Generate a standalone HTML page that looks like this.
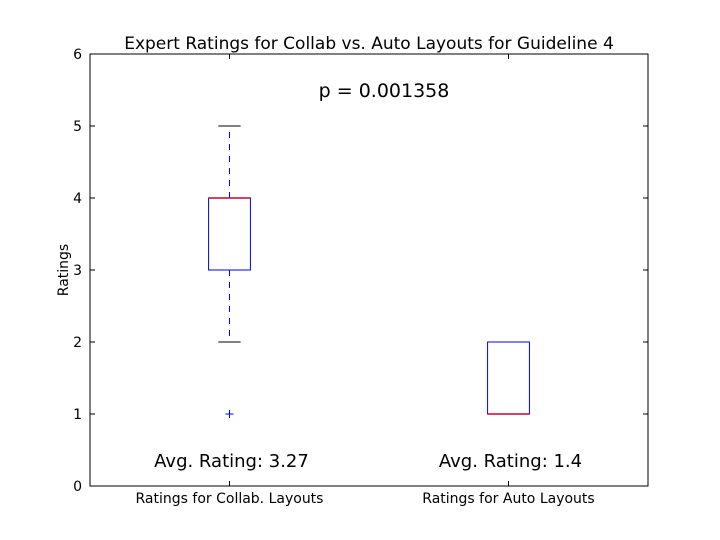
<!DOCTYPE html>
<html><head><meta charset="utf-8"><style>
body{margin:0;background:#fff;}
svg{display:block;font-family:"DejaVu Sans","Liberation Sans",sans-serif;}
</style></head><body>
<svg id="chart" width="720" height="540" viewBox="0 0 720 540" xmlns="http://www.w3.org/2000/svg">
<rect x="0" y="0" width="720" height="540" fill="#fff"/>
<text x="369" y="49" font-size="17" text-anchor="middle">Expert Ratings for Collab vs. Auto Layouts for Guideline 4</text>
<text transform="translate(68,270) rotate(-90)" font-size="14" text-anchor="middle">Ratings</text>
<text x="384" y="97" font-size="19" text-anchor="middle">p = 0.001358</text>
<g id="marks"></g>
<rect x="90" y="54" width="558" height="432" fill="none" stroke="#000" stroke-width="1"/>
</svg>
<script>
const categories = ["Ratings for Collab. Layouts", "Ratings for Auto Layouts"];
const q1 = [3, 1];
const medians = [4, 1];
const q3 = [4, 2];
const whiskerLow = [2, 1];
const whiskerHigh = [5, 2];
const outliers = [[1], []];
const averages = ["3.27", "1.4"];
const yTicks = [0, 1, 2, 3, 4, 5, 6];

const NS = "http://www.w3.org/2000/svg";
const L = 90, R = 648, T = 54, B = 486;
const yMin = 0, yMax = 6, xMin = 0.5, xMax = 2.5;
function ys(v){ return B - (v - yMin) / (yMax - yMin) * (B - T); }
function xs(i){ return L + ((i + 1) - xMin) / (xMax - xMin) * (R - L); }
const g = document.getElementById("marks");
function el(tag, attrs, text){
  const e = document.createElementNS(NS, tag);
  for (const k in attrs) e.setAttribute(k, attrs[k]);
  if (text !== undefined) e.textContent = text;
  g.appendChild(e);
  return e;
}
const unitW = (R - L) / (xMax - xMin);
const boxW = 0.15 * unitW, capW = 0.08 * unitW;

yTicks.forEach(t => {
  const y = ys(t);
  const a = el("line", {x1: L, x2: L + 5, y1: y, y2: y, stroke: "#000"});
  
  
  const b = el("line", {x1: R - 5, x2: R, y1: y, y2: y, stroke: "#000"});
  
  
  const lb = el("text", {x: L - 8, y: y + 5, "font-size": 14, "text-anchor": "end"}, String(t));
  
  
});

categories.forEach((c, i) => {
  const x = xs(i);
  const tk = el("line", {x1: x, x2: x, y1: B - 5, y2: B, stroke: "#000"});
  
  
  const tk2 = el("line", {x1: x, x2: x, y1: T, y2: T + 5, stroke: "#000"});
  
  
  const lb = el("text", {x: x, y: B + 17, "font-size": 14, "text-anchor": "middle"}, c);
  
  

  const w1 = el("line", {x1: x, x2: x, y1: ys(q3[i]), y2: ys(whiskerHigh[i]), stroke: "#0000ff", "stroke-dasharray": "6,6"});
  
  
  const w2 = el("line", {x1: x, x2: x, y1: ys(q1[i]), y2: ys(whiskerLow[i]), stroke: "#0000ff", "stroke-dasharray": "6,6"});
  
  
  const c1 = el("line", {x1: x - capW/2, x2: x + capW/2, y1: ys(whiskerHigh[i]), y2: ys(whiskerHigh[i]), stroke: "#000"});
  
  
  const c2 = el("line", {x1: x - capW/2, x2: x + capW/2, y1: ys(whiskerLow[i]), y2: ys(whiskerLow[i]), stroke: "#000"});
  
  
  const bx = el("rect", {x: x - boxW/2, y: ys(q3[i]), width: boxW, height: ys(q1[i]) - ys(q3[i]), fill: "none", stroke: "#0000ff"});
  
  
  const md = el("line", {x1: x - boxW/2, x2: x + boxW/2, y1: ys(medians[i]), y2: ys(medians[i]), stroke: "#cc0033", "stroke-width": 1.5});
  
  
  outliers[i].forEach((o, j) => {
    const y = ys(o);
    const p = el("path", {d: `M${x-4},${y}H${x+4}M${x},${y-4}V${y+4}`, stroke: "#0000ff", fill: "none"});
    
    
  });
  const av = el("text", {x: x + 2, y: 467, "font-size": 18, "text-anchor": "middle"}, "Avg. Rating: " + averages[i]);
  
  
});
</script>
</body></html>
